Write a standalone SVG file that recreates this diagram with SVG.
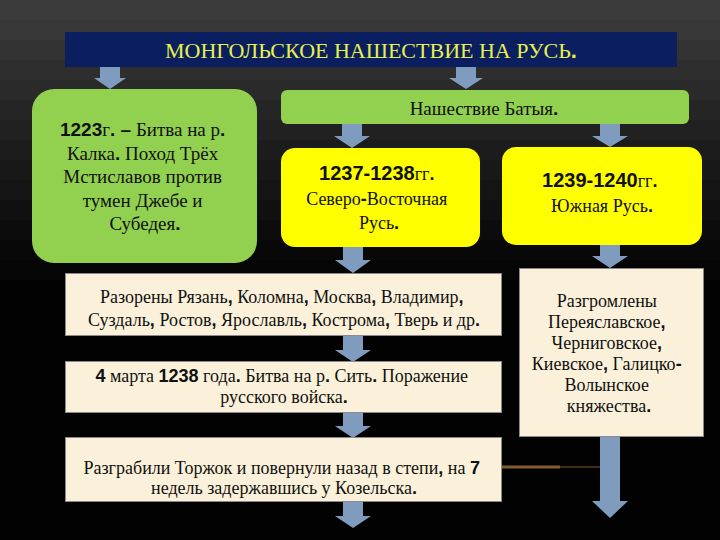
<svg xmlns="http://www.w3.org/2000/svg" width="720" height="540" viewBox="0 0 720 540">
<style>
.t{fill:#111;text-anchor:middle}
.green{fill:#92d050}
.yel{fill:#ffff00}
.beige{fill:#fbf1da;stroke:#8a8a8a;stroke-width:1}
.arrow{fill:#7f9cbf}
</style>
<g id="background">
<rect x="0" y="0" width="720" height="540" fill="#020202"/>
<rect x="0" y="0" width="720" height="20" fill="#3b3b3b"/>
<rect x="0" y="20" width="720" height="20" fill="#373737"/>
<rect x="0" y="40" width="720" height="20" fill="#333333"/>
<rect x="0" y="60" width="720" height="20" fill="#2e2e2e"/>
<rect x="0" y="80" width="720" height="20" fill="#2a2a2a"/>
<rect x="0" y="100" width="720" height="20" fill="#252525"/>
<rect x="0" y="120" width="720" height="20" fill="#212121"/>
<rect x="0" y="140" width="720" height="20" fill="#1c1c1c"/>
<rect x="0" y="160" width="720" height="20" fill="#181818"/>
<rect x="0" y="180" width="720" height="20" fill="#141414"/>
<rect x="0" y="200" width="720" height="20" fill="#101010"/>
<rect x="0" y="220" width="720" height="20" fill="#0c0c0c"/>
<rect x="0" y="240" width="720" height="20" fill="#080808"/>
<rect x="0" y="260" width="720" height="20" fill="#050505"/>
<rect x="420" y="466" width="60" height="2" fill="#c98a3c" opacity="0.3"/>
<rect x="480" y="465.5" width="80" height="3" fill="#d89a4a" opacity="0.6"/>
<rect x="560" y="466" width="40" height="2" fill="#c98a3c" opacity="0.3"/>
</g>

<g id="title">
<rect x="65" y="32" width="612" height="35" fill="#0b1f60"/>
<text x="371" y="58" class="t" font-family="Times New Roman, Liberation Serif, serif" font-size="22" fill="#e8f04e" style="fill:#e8f04e">МОНГОЛЬСКОЕ НАШЕСТВИЕ НА РУСЬ<tspan font-family="Arial, Liberation Sans, sans-serif" font-weight="bold">.</tspan></text>
</g>

<g id="connectors">
<path class="arrow" d="M100 67h20v11h6l-16 11l-16-11h6z"/>
<path class="arrow" d="M456 67h20v11h7l-17 11l-17-11h7z"/>
<path class="arrow" d="M342 124h20v12h8l-18 12l-18-12h8z"/>
<path class="arrow" d="M600 124h20v12h8l-18 11l-18-11h8z"/>
<path class="arrow" d="M343 246h20v14h8l-18 13l-18-13h8z"/>
<path class="arrow" d="M343 336h20v14h8l-18 12l-18-12h8z"/>
<path class="arrow" d="M343 413h20v13h8l-18 12l-18-12h8z"/>
<path class="arrow" d="M343 502h20v14h8l-18 12l-18-12h8z"/>
<path class="arrow" d="M600 245h20v11h8l-18 12l-18-12h8z"/>
<path class="arrow" d="M600 437h20v64h8l-18 17l-18-17h8z"/>
</g>

<g id="n1223">
<rect x="32" y="89" width="225" height="174" rx="22" class="green"/>
<text class="t" font-family="Times New Roman, Liberation Serif, serif" font-size="19">
<tspan x="145" y="136"><tspan font-family="Arial, Liberation Sans, sans-serif" font-weight="bold">1223</tspan>г<tspan font-family="Arial, Liberation Sans, sans-serif" font-weight="bold">. –</tspan> Битва на р<tspan font-family="Arial, Liberation Sans, sans-serif" font-weight="bold">.</tspan></tspan>
<tspan x="145" y="160">Калка<tspan font-family="Arial, Liberation Sans, sans-serif" font-weight="bold">.</tspan> Поход Трёх</tspan>
<tspan x="145" y="183">Мстиславов  против</tspan>
<tspan x="145" y="207">тумен Джебе и</tspan>
<tspan x="145" y="230">Субедея<tspan font-family="Arial, Liberation Sans, sans-serif" font-weight="bold">.</tspan></tspan>
</text>
</g>

<g id="batu">
<rect x="281" y="90" width="408" height="34" rx="6" class="green"/>
<text x="484" y="115" class="t" font-family="Times New Roman, Liberation Serif, serif" font-size="19">Нашествие Батыя<tspan font-family="Arial, Liberation Sans, sans-serif" font-weight="bold">.</tspan></text>
</g>

<g id="ne">
<rect x="281" y="148" width="199" height="99" rx="14" class="yel"/>
<text class="t" font-family="Times New Roman, Liberation Serif, serif" font-size="18">
<tspan x="379" y="180"><tspan font-family="Arial, Liberation Sans, sans-serif" font-weight="bold" font-size="20">1237-1238</tspan>гг<tspan font-family="Arial, Liberation Sans, sans-serif" font-weight="bold">.</tspan></tspan>
<tspan x="379" y="205">Северо<tspan font-family="Arial, Liberation Sans, sans-serif" font-weight="bold">-</tspan>Восточная</tspan>
<tspan x="379" y="229">Русь<tspan font-family="Arial, Liberation Sans, sans-serif" font-weight="bold">.</tspan></tspan>
</text>
</g>

<g id="south">
<rect x="502" y="147" width="200" height="98" rx="14" class="yel"/>
<text class="t" font-family="Times New Roman, Liberation Serif, serif" font-size="18">
<tspan x="602" y="187"><tspan font-family="Arial, Liberation Sans, sans-serif" font-weight="bold" font-size="20">1239-1240</tspan>гг<tspan font-family="Arial, Liberation Sans, sans-serif" font-weight="bold">.</tspan></tspan>
<tspan x="602" y="212">Южная Русь<tspan font-family="Arial, Liberation Sans, sans-serif" font-weight="bold">.</tspan></tspan>
</text>
</g>

<g id="ruined">
<rect x="65.5" y="273.5" width="436" height="62" class="beige"/>
<text class="t" font-family="Times New Roman, Liberation Serif, serif" font-size="18">
<tspan x="284" y="303">Разорены Рязань<tspan font-family="Arial, Liberation Sans, sans-serif" font-weight="bold">,</tspan> Коломна<tspan font-family="Arial, Liberation Sans, sans-serif" font-weight="bold">,</tspan> Москва<tspan font-family="Arial, Liberation Sans, sans-serif" font-weight="bold">,</tspan> Владимир<tspan font-family="Arial, Liberation Sans, sans-serif" font-weight="bold">,</tspan></tspan>
<tspan x="284" y="326">Суздаль<tspan font-family="Arial, Liberation Sans, sans-serif" font-weight="bold">,</tspan> Ростов<tspan font-family="Arial, Liberation Sans, sans-serif" font-weight="bold">,</tspan> Ярославль<tspan font-family="Arial, Liberation Sans, sans-serif" font-weight="bold">,</tspan> Кострома<tspan font-family="Arial, Liberation Sans, sans-serif" font-weight="bold">,</tspan> Тверь и др<tspan font-family="Arial, Liberation Sans, sans-serif" font-weight="bold">.</tspan></tspan>
</text>
</g>

<g id="sit">
<rect x="65.5" y="361.5" width="436" height="51" class="beige"/>
<text class="t" font-family="Times New Roman, Liberation Serif, serif" font-size="18">
<tspan x="284" y="382"><tspan font-family="Arial, Liberation Sans, sans-serif" font-weight="bold">4</tspan> марта <tspan font-family="Arial, Liberation Sans, sans-serif" font-weight="bold">1238</tspan> года<tspan font-family="Arial, Liberation Sans, sans-serif" font-weight="bold">.</tspan> Битва на р<tspan font-family="Arial, Liberation Sans, sans-serif" font-weight="bold">.</tspan> Сить<tspan font-family="Arial, Liberation Sans, sans-serif" font-weight="bold">.</tspan> Поражение</tspan>
<tspan x="284" y="403">русского войска<tspan font-family="Arial, Liberation Sans, sans-serif" font-weight="bold">.</tspan></tspan>
</text>
</g>

<g id="torzhok">
<rect x="65.5" y="437.5" width="436" height="64" class="beige"/>
<text class="t" font-family="Times New Roman, Liberation Serif, serif" font-size="18">
<tspan x="284" y="474">Разграбили Торжок и повернули назад в степи<tspan font-family="Arial, Liberation Sans, sans-serif" font-weight="bold">,</tspan> на <tspan font-family="Arial, Liberation Sans, sans-serif" font-weight="bold">7</tspan></tspan>
<tspan x="284" y="494">недель задержавшись у Козельска<tspan font-family="Arial, Liberation Sans, sans-serif" font-weight="bold">.</tspan></tspan>
</text>
</g>

<g id="southruin">
<rect x="519.5" y="268.5" width="184" height="168" class="beige"/>
<text class="t" font-family="Times New Roman, Liberation Serif, serif" font-size="18">
<tspan x="609" y="307">Разгромлены</tspan>
<tspan x="609" y="328">Переяславское<tspan font-family="Arial, Liberation Sans, sans-serif" font-weight="bold">,</tspan></tspan>
<tspan x="609" y="349">Черниговское<tspan font-family="Arial, Liberation Sans, sans-serif" font-weight="bold">,</tspan></tspan>
<tspan x="609" y="370">Киевское<tspan font-family="Arial, Liberation Sans, sans-serif" font-weight="bold">,</tspan> Галицко<tspan font-family="Arial, Liberation Sans, sans-serif" font-weight="bold">-</tspan></tspan>
<tspan x="609" y="391">Волынское</tspan>
<tspan x="609" y="412">княжества<tspan font-family="Arial, Liberation Sans, sans-serif" font-weight="bold">.</tspan></tspan>
</text>
</g>
</svg>
